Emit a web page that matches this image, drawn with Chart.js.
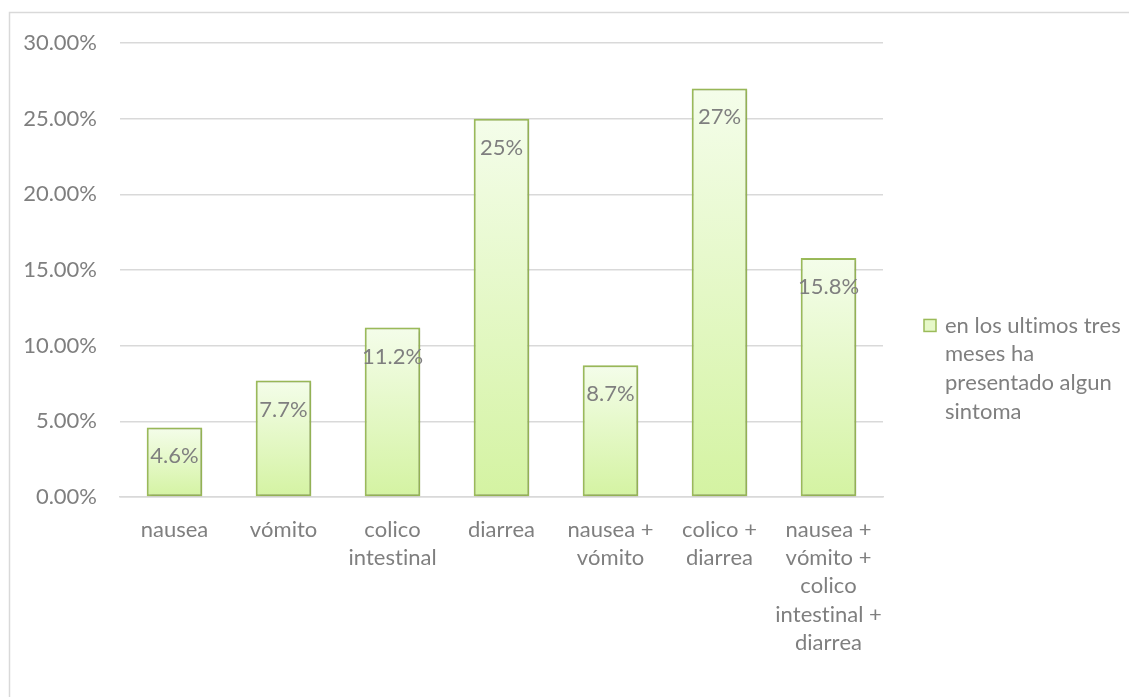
<!DOCTYPE html>
<html>
<head>
<meta charset="utf-8">
<script src="https://cdn.jsdelivr.net/npm/chart.js@4/dist/chart.umd.min.js"></script>
<style>
  html, body { margin: 0; padding: 0; background: #fff; }
  canvas { display: block; }
</style>
</head>
<body>
<canvas id="myChart" width="1129" height="697"></canvas>
<script>
const categories = [
    ["nausea"],
    ["vómito"],
    ["colico", "intestinal"],
    ["diarrea"],
    ["nausea +", "vómito"],
    ["colico +", "diarrea"],
    ["nausea +", "vómito +", "colico", "intestinal +", "diarrea"]
];
const values = [4.6, 7.7, 11.2, 25, 8.7, 27, 15.8];
const legendLines = ["en los ultimos tres", "meses ha", "presentado algun", "sintoma"];
const yTicks = [0, 5, 10, 15, 20, 25, 30];

const canvas = document.getElementById("myChart");
const textColor = "#7f7f7f";
const fontFamily = "Lato, 'Open Sans', sans-serif";

// light top, greener bottom, one gradient per bar
function barGradient(context) {
    const chart = context.chart;
    const yScale = chart.scales.y;
    if (!yScale || context.type !== "data") return "#e4f8c4";
    const top = yScale.getPixelForValue(context.raw);
    const base = yScale.getPixelForValue(0);
    if (!isFinite(top) || !isFinite(base) || top === base) return "#e4f8c4";
    const g = chart.ctx.createLinearGradient(0, top, 0, base);
    g.addColorStop(0, "#f4fdea");
    g.addColorStop(1, "#d4f3a2");
    return g;
}

const frame = {
    id: "frame",
    beforeDraw(chart) {
        const ctx = chart.ctx;
        // no "ti" ligatures from Lato
        ctx.textRendering = "optimizeSpeed";
        ctx.fontKerning = "none";
        ctx.save();
        ctx.strokeStyle = "#d9d9d9";
        ctx.lineWidth = 1.5;
        ctx.strokeRect(9.5, 12.5, 2000, 2000);
        ctx.restore();
    }
};

const barShadow = {
    id: "barShadow",
    beforeDatasetsDraw(chart) {
        const ctx = chart.ctx;
        ctx.save();
        ctx.shadowColor = "rgba(0,0,0,0.22)";
        ctx.shadowBlur = 3;
        ctx.shadowOffsetX = 1;
        ctx.shadowOffsetY = 1;
    },
    afterDatasetsDraw(chart) {
        chart.ctx.restore();
    }
};

const valueLabels = {
    id: "valueLabels",
    afterDatasetsDraw(chart) {
        const ctx = chart.ctx;
        const meta = chart.getDatasetMeta(0);
        ctx.save();
        ctx.font = "22px " + fontFamily;
        ctx.fillStyle = textColor;
        ctx.textAlign = "center";
        ctx.textBaseline = "middle";
        meta.data.forEach((bar, i) => {
            ctx.fillText(values[i] + "%", bar.x, bar.y + 29);
        });
        ctx.restore();
    }
};

const sideLegend = {
    id: "sideLegend",
    afterDraw(chart) {
        const ctx = chart.ctx;
        const area = chart.chartArea;
        const lh = 28.7;
        const top = chart.height / 2 + 20 - legendLines.length * lh / 2;
        const boxX = area.right + 41;
        ctx.save();
        ctx.fillStyle = "#e6f8c8";
        ctx.strokeStyle = "#9bbb59";
        ctx.lineWidth = 1.5;
        ctx.fillRect(boxX, top + lh / 2 - 6, 12, 12);
        ctx.strokeRect(boxX, top + lh / 2 - 6, 12, 12);
        ctx.font = "22px " + fontFamily;
        ctx.fillStyle = textColor;
        ctx.textAlign = "left";
        ctx.textBaseline = "middle";
        legendLines.forEach((line, i) => {
            ctx.fillText(line, boxX + 21, top + lh / 2 + i * lh);
        });
        ctx.restore();
    }
};

new Chart(canvas.getContext("2d"), {
    type: "bar",
    data: {
        labels: categories,
        datasets: [{
            label: legendLines.join(" "),
            data: values,
            backgroundColor: barGradient,
            borderColor: "#9bbb59",
            borderWidth: 2,
            borderSkipped: false,
            barPercentage: 0.51,
            categoryPercentage: 1
        }]
    },
    options: {
        responsive: false,
        animation: false,
        devicePixelRatio: 1,
        layout: { padding: { top: 43, right: 246, left: 0, bottom: 0 } },
        plugins: {
            legend: { display: false },
            tooltip: { enabled: false }
        },
        scales: {
            x: {
                grid: { display: false },
                border: { display: true, color: "#d9d9d9", width: 1.5 },
                ticks: {
                    color: textColor,
                    font: { family: fontFamily, size: 22, lineHeight: 1.28 },
                    padding: 11,
                    maxRotation: 0,
                    autoSkip: false
                },
                afterFit(scale) { scale.height = 200; }
            },
            y: {
                min: 0,
                max: 30,
                afterBuildTicks(scale) { scale.ticks = yTicks.map(v => ({ value: v })); },
                grid: { color: "#d9d9d9", lineWidth: 1.5, drawTicks: false },
                border: { display: false },
                ticks: {
                    color: textColor,
                    font: { family: fontFamily, size: 22 },
                    padding: 23,
                    callback: v => v.toFixed(2) + "%"
                },
                afterFit(scale) { scale.width = 120; }
            }
        }
    },
    plugins: [frame, barShadow, valueLabels, sideLegend]
});
</script>
</body>
</html>
